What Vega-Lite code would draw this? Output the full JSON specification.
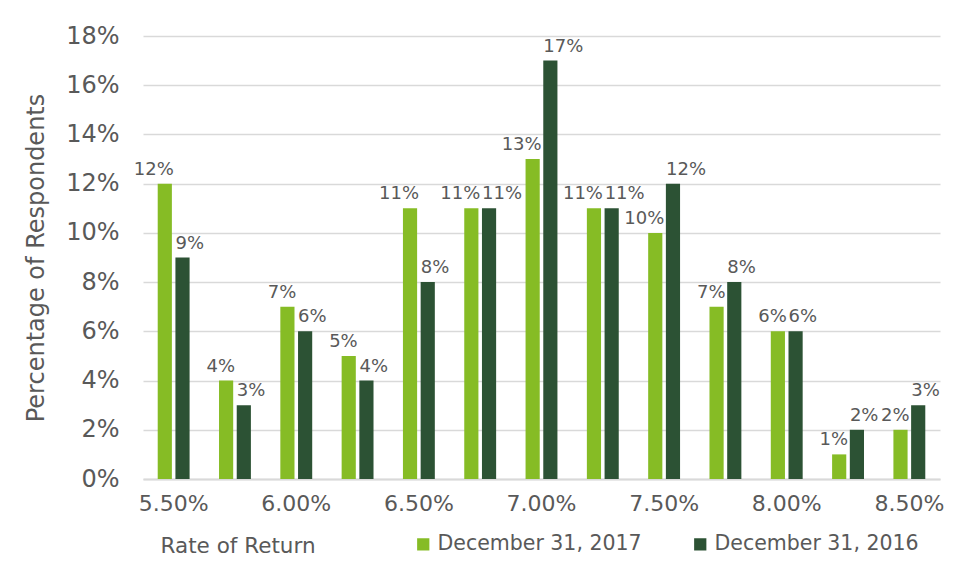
{
  "$schema": "https://vega.github.io/schema/vega-lite/v6.json",
  "width": 797,
  "height": 443,
  "autosize": {"type": "none"},
  "padding": {"left": 143, "top": 36, "right": 15, "bottom": 97},
  "background": "white",
  "config": {
    "font": "DejaVu Sans",
    "view": {"stroke": null},
    "axis": {"labelColor": "#595959", "titleColor": "#595959", "labelFont": "DejaVu Sans", "titleFont": "DejaVu Sans", "titleFontWeight": "normal"},
    "legend": {"labelColor": "#595959", "labelFont": "DejaVu Sans"}
  },
  "data": {
    "values": [
      {"rate": "5.50%", "series": "December 31, 2017", "share": 0.12},
      {"rate": "5.50%", "series": "December 31, 2016", "share": 0.09},
      {"rate": "5.75%", "series": "December 31, 2017", "share": 0.04},
      {"rate": "5.75%", "series": "December 31, 2016", "share": 0.03},
      {"rate": "6.00%", "series": "December 31, 2017", "share": 0.07},
      {"rate": "6.00%", "series": "December 31, 2016", "share": 0.06},
      {"rate": "6.25%", "series": "December 31, 2017", "share": 0.05},
      {"rate": "6.25%", "series": "December 31, 2016", "share": 0.04},
      {"rate": "6.50%", "series": "December 31, 2017", "share": 0.11},
      {"rate": "6.50%", "series": "December 31, 2016", "share": 0.08},
      {"rate": "6.75%", "series": "December 31, 2017", "share": 0.11},
      {"rate": "6.75%", "series": "December 31, 2016", "share": 0.11},
      {"rate": "7.00%", "series": "December 31, 2017", "share": 0.13},
      {"rate": "7.00%", "series": "December 31, 2016", "share": 0.17},
      {"rate": "7.25%", "series": "December 31, 2017", "share": 0.11},
      {"rate": "7.25%", "series": "December 31, 2016", "share": 0.11},
      {"rate": "7.50%", "series": "December 31, 2017", "share": 0.10},
      {"rate": "7.50%", "series": "December 31, 2016", "share": 0.12},
      {"rate": "7.75%", "series": "December 31, 2017", "share": 0.07},
      {"rate": "7.75%", "series": "December 31, 2016", "share": 0.08},
      {"rate": "8.00%", "series": "December 31, 2017", "share": 0.06},
      {"rate": "8.00%", "series": "December 31, 2016", "share": 0.06},
      {"rate": "8.25%", "series": "December 31, 2017", "share": 0.01},
      {"rate": "8.25%", "series": "December 31, 2016", "share": 0.02},
      {"rate": "8.50%", "series": "December 31, 2017", "share": 0.02},
      {"rate": "8.50%", "series": "December 31, 2016", "share": 0.03}
    ]
  },
  "encoding": {
    "x": {
      "field": "rate", "type": "nominal", "sort": null,
      "scale": {"paddingInner": 0.48, "paddingOuter": 0.24},
      "axis": {
        "title": "Rate of Return",
        "titleFontSize": 21.5,
        "titleAnchor": "start",
        "titleAlign": "left",
        "titleX": 17,
        "titleY": 67,
        "titleBaseline": "middle",
        "labelAngle": 0,
        "labelFontSize": 22,
        "labelPadding": 14,
        "labelExpr": "slice(datum.value, -2) == '0%' ? datum.value : ''",
        "labelOverlap": false,
        "ticks": false,
        "domainColor": "#d9d9d9",
        "domainWidth": 2,
        "grid": false
      }
    },
    "xOffset": {
      "field": "series", "type": "nominal",
      "sort": ["December 31, 2017", "December 31, 2016"],
      "scale": {"paddingInner": 0.2}
    },
    "y": {
      "field": "share", "type": "quantitative",
      "scale": {"domain": [0, 0.18]},
      "axis": {
        "title": "Percentage of Respondents",
        "titleFontSize": 24,
        "titlePadding": 17,
        "values": [0, 0.02, 0.04, 0.06, 0.08, 0.1, 0.12, 0.14, 0.16, 0.18],
        "format": ".0%",
        "labelFontSize": 24,
        "labelPadding": 24,
        "ticks": false,
        "domain": false,
        "gridColor": "#d9d9d9",
        "gridWidth": 1.5
      }
    }
  },
  "layer": [
    {
      "mark": {"type": "bar"},
      "encoding": {
        "color": {
          "field": "series", "type": "nominal",
          "scale": {"domain": ["December 31, 2017", "December 31, 2016"], "range": ["#86BC25", "#2C5234"]},
          "legend": {
            "title": null,
            "orient": "none",
            "direction": "horizontal",
            "legendX": 270,
            "legendY": 498,
            "symbolType": "square",
            "symbolSize": 150,
            "symbolStrokeWidth": 0,
            "labelFontSize": 20.5,
            "labelLimit": 400,
            "labelOffset": 4,
            "columnPadding": 48
          }
        }
      }
    },
    {
      "transform": [{"filter": "datum.series == 'December 31, 2017'"}],
      "mark": {"type": "text", "dy": -14, "dx": 9, "align": "right", "fontSize": 18, "color": "#595959", "font": "DejaVu Sans"},
      "encoding": {
        "text": {"field": "share", "type": "quantitative", "format": ".0%"}
      }
    },
    {
      "transform": [{"filter": "datum.series == 'December 31, 2016'"}],
      "mark": {"type": "text", "dy": -14, "dx": -7, "align": "left", "fontSize": 18, "color": "#595959", "font": "DejaVu Sans"},
      "encoding": {
        "text": {"field": "share", "type": "quantitative", "format": ".0%"}
      }
    }
  ]
}
